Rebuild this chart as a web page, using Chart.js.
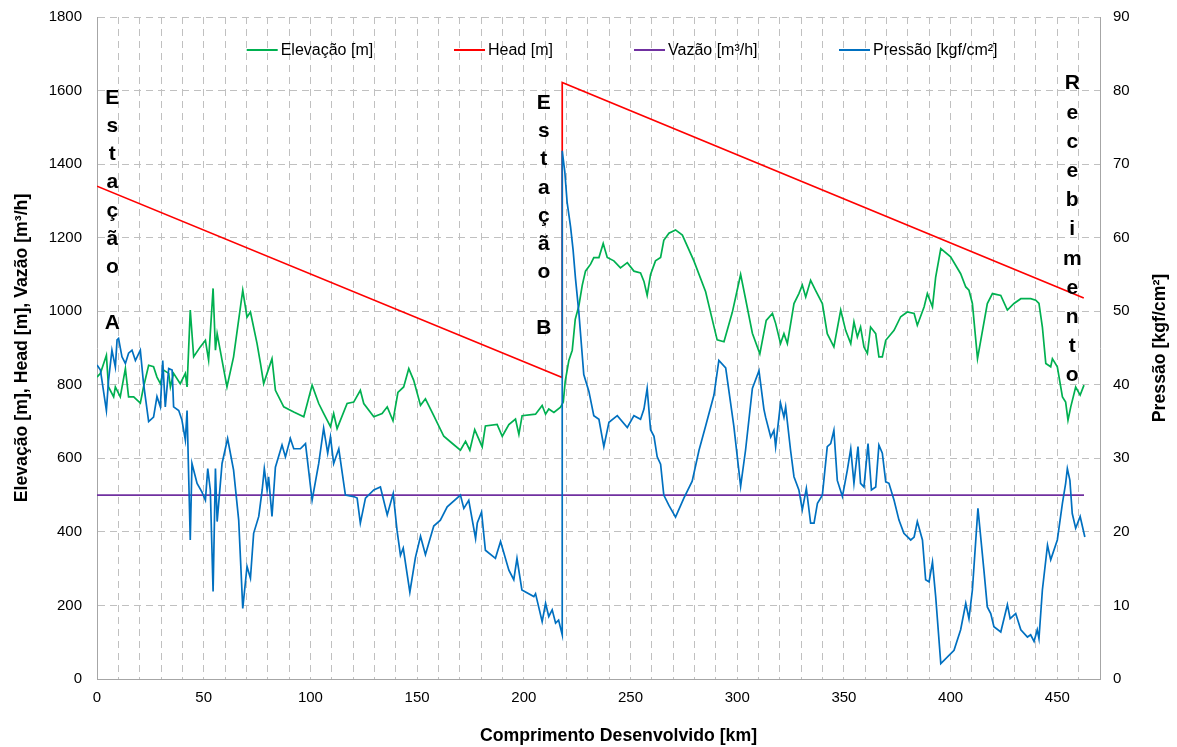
<!DOCTYPE html>
<html><head><meta charset="utf-8">
<script src="https://cdn.jsdelivr.net/npm/chart.js@4/dist/chart.umd.min.js"></script>
<style>html,body{margin:0;padding:0;background:#fff;}#wrap{width:1177px;height:747px;position:relative;}</style>
</head><body><div id="wrap"><canvas id="c"></canvas></div>
<script>
// ---------- DATA ----------
const elevKm = [0,1.6,4.4,5.4,7.8,8.6,10.9,13.3,14.8,17.2,20.3,21.8,24.2,26.5,28.1,29.7,31.2,33.6,34.4,35.9,39.0,41.4,42.2,43.7,45.3,48.4,50.8,52.3,54.4,55.5,56.3,60.9,64.0,68.3,70.3,71.9,75.0,76.6,78.1,79.7,82.0,83.6,87.5,90.6,92.2,96.9,100.8,103.9,106.2,109.4,110.9,112.5,117.2,120.3,123.4,125.0,129.7,133.6,136.0,138.7,141.0,143.7,146.1,148.4,151.6,153.9,157.8,162.5,166.4,170.3,172.7,174.7,177.0,180.5,182.0,187.5,189.9,193.0,196.1,197.7,199.2,205.5,208.6,210.2,211.7,214.1,217.2,218.5,219.4,221.1,222.7,224.1,225.8,227.4,228.9,231.3,232.8,235.2,237.2,239.1,242.2,245.3,248.5,251.6,254.7,256.3,257.8,259.4,261.7,264.1,265.6,268.0,271.1,274.3,279.7,285.2,287.5,290.6,293.8,297.7,301.6,303.9,307.1,310.6,313.6,316.5,318.0,320.3,321.9,323.5,326.6,328.9,330.5,332.1,334.4,336.7,339.9,342.2,345.3,348.5,350.8,353.2,354.7,356.3,357.8,359.4,361.0,362.5,364.9,366.4,368.0,369.6,373.5,376.6,379.7,382.9,384.4,387.6,389.1,391.5,393.0,395.4,400.0,404.7,407.1,408.6,410.2,412.6,417.2,419.6,423.5,426.6,429.7,432.9,437.5,439.9,441.4,443.0,444.6,446.9,447.7,450.0,452.4,453.9,455.0,456.3,458.6,460.7,462.5];
const elevM = [821,831,880,794,767,794,767,844,767,767,750,794,853,849,821,803,840,831,794,831,803,831,794,1003,876,903,921,867,1062,894,939,794,876,1057,984,998,912,858,803,831,871,785,740,731,726,713,799,749,722,686,722,681,749,753,785,749,713,722,740,702,779,794,844,812,744,762,716,660,641,622,646,622,678,631,688,692,660,692,707,665,716,720,744,720,734,725,739,753,809,866,894,978,1015,1071,1109,1128,1146,1146,1184,1146,1137,1118,1132,1109,1104,1081,1043,1100,1137,1146,1193,1212,1221,1207,1137,1053,997,922,917,997,1100,1034,940,884,975,994,967,912,939,912,1021,1048,1071,1039,1084,1057,1021,939,903,1003,948,912,971,930,957,903,885,957,939,876,876,921,948,985,998,994,962,1012,1048,1012,1093,1170,1148,1102,1066,1057,1021,871,1021,1048,1043,1003,1021,1034,1034,1030,1021,957,858,849,871,849,767,753,704,740,794,772,799];

const headKm = [0, 218, 218, 462.4];
const headM = [1340, 820, 1622, 1036];

const flowKm = [0, 462.5];
const flowM3h = [500, 500];

const pressKm = [0,1.6,4.4,5.4,7.0,8.6,9.4,10.1,11.7,13.3,14.8,16.4,18.0,20.3,21.8,24.2,26.5,28.1,29.7,30.8,32.0,33.6,35.2,35.9,38.3,39.8,41.4,42.2,43.7,44.5,46.9,49.2,50.8,51.9,53.1,54.4,55.5,56.3,58.6,61.2,64.0,66.4,68.3,70.3,71.9,73.4,75.8,77.4,78.4,79.7,80.4,82.0,83.6,86.7,88.3,90.6,92.2,95.3,97.7,100.8,103.9,106.2,108.1,109.4,110.9,113.3,116.4,120.3,121.9,123.4,125.8,129.7,132.8,136.0,138.8,140.6,142.2,143.5,146.6,149.2,151.6,153.9,157.8,160.9,164.1,170.3,171.9,174.2,177.4,178.2,180.2,182.0,186.7,189.1,193.0,195.3,196.8,199.1,204.7,205.5,208.6,210.2,211.7,213.3,214.9,216.3,218.0,218.0,219.2,220.3,221.9,223.1,224.2,225.8,228.1,230.5,232.8,235.2,237.5,239.9,243.8,248.5,251.6,254.7,256.3,257.8,259.4,261.0,262.5,264.1,265.6,268.0,271.1,275.0,278.9,282.1,285.2,289.1,291.4,294.6,298.4,301.6,303.9,307.1,310.2,312.5,313.3,315.7,317.2,318.0,320.3,321.9,322.7,325.0,326.6,328.9,330.5,332.4,334.4,336.0,337.6,339.9,342.2,343.8,345.3,346.9,349.3,351.6,353.2,354.7,356.6,357.8,359.4,361.3,362.9,364.9,366.4,368.0,369.6,371.1,373.5,375.8,378.1,381.3,382.9,384.4,386.8,388.3,389.9,391.5,393.0,395.4,401.6,404.7,407.1,408.6,410.2,412.8,415.6,417.2,418.8,420.3,423.5,426.6,427.9,430.5,432.9,436.0,437.5,439.1,440.6,441.4,443.0,445.4,446.9,450.0,452.4,453.9,454.7,455.9,457.0,458.6,460.7,462.9];
const pressKgf = [42.7,42.0,36.5,40.6,44.7,42.4,46.1,46.3,43.8,42.9,44.3,44.7,43.3,44.7,40.2,35.0,35.6,38.4,37.0,43.3,37.0,42.2,42.0,37.0,36.5,35.2,32.5,36.5,18.9,29.3,26.6,25.4,24.3,28.6,25.7,11.9,28.6,21.4,29.3,32.7,28.4,21.6,9.6,15.3,13.7,19.8,22.1,25.7,28.6,25.7,27.5,22.1,28.8,31.8,30.2,32.7,31.3,31.3,32.0,24.3,29.3,34.1,30.7,32.9,29.3,31.3,25.0,24.8,24.6,21.2,24.6,25.7,26.1,22.3,25.2,20.2,16.8,17.8,11.8,16.5,19.4,16.9,20.8,21.6,23.4,25.0,23.2,24.3,19.1,21.2,22.7,17.5,16.4,18.7,14.8,13.5,16.4,12.1,11.2,11.6,7.8,10.3,8.5,9.4,7.6,8.0,6.0,71.8,69.0,64.8,61.5,58.3,54.5,49.8,41.4,39.1,35.8,35.3,31.6,34.9,35.8,34.2,35.8,35.3,36.7,39.5,33.9,33.0,30.2,29.2,25.0,23.6,22.0,24.6,26.9,31.1,34.4,38.6,43.3,42.3,34.4,26.2,31.1,39.5,41.9,36.7,35.6,32.9,33.8,31.6,37.5,35.6,37.0,31.1,27.5,25.7,23.0,25.9,21.2,21.2,23.9,25.0,31.6,32.0,33.8,27.0,24.8,28.4,31.3,26.6,31.6,26.6,26.1,32.0,25.7,26.1,31.8,30.7,26.8,26.6,24.3,21.6,19.8,18.9,19.3,21.4,18.9,13.5,13.2,15.9,11.2,2.1,3.9,6.7,10.3,8.2,12.1,23.2,14.8,9.8,8.9,7.1,6.4,10.1,8.2,8.9,6.7,5.7,6.0,5.1,6.7,5.5,12.1,18.2,16.2,18.9,23.9,26.6,28.6,27.0,22.5,20.5,22.1,19.3];

const seriesNames = ['Elevação [m]', 'Head [m]', 'Vazão [m³/h]', 'Pressão [kgf/cm²]'];
const seriesColors = ['#00b050', '#ff0000', '#7030a0', '#0070c0'];
const xTitle = 'Comprimento Desenvolvido [km]';
const yTitle = 'Elevação [m], Head [m], Vazão [m³/h]';
const y2Title = 'Pressão [kgf/cm²]';
const stationLabels = ['Estação A', 'Estação B', 'Recebimento'];
const stationKm = [7.2, 209.4, 457];
const stationTop = [1580, 1565, 1619];

// ---------- LAYOUT / STYLE ----------
const FONT = "'Liberation Sans', Arial, Helvetica, sans-serif";
const GRID = '#c0c0c0';
const AXIS = '#a6a6a6';
const legendX = [246.7, 454, 634, 839];
const legendY = 50;
const stationLH = [28.2, 28.1, 29.2];

const toPts = (xs, ys) => xs.map((x, i) => ({x: x, y: ys[i]}));

const overlay = {
  id: 'overlay',
  afterDatasetsDraw(chart) {
    const ctx = chart.ctx;
    const xs = chart.scales.x, ys = chart.scales.y;
    const ca = chart.chartArea;
    ctx.save();
    ctx.fillStyle = '#000';
    ctx.font = 'bold 21px ' + FONT;
    ctx.textAlign = 'center';
    ctx.textBaseline = 'middle';
    stationLabels.forEach((lbl, k) => {
      const px = xs.getPixelForValue(stationKm[k]);
      const py = ys.getPixelForValue(stationTop[k]);
      Array.from(lbl).forEach((ch, i) => {
        if (ch !== ' ') ctx.fillText(ch, px, py + i * stationLH[k]);
      });
    });
    ctx.font = '16px ' + FONT;
    ctx.textAlign = 'left';
    seriesNames.forEach((name, i) => {
      const lx = legendX[i];
      ctx.strokeStyle = seriesColors[i];
      ctx.lineWidth = 2;
      ctx.beginPath();
      ctx.moveTo(lx, legendY);
      ctx.lineTo(lx + 31, legendY);
      ctx.stroke();
      ctx.fillStyle = '#000';
      ctx.fillText(name, lx + 34, legendY + 1);
    });
    ctx.font = 'bold 17.7px ' + FONT;
    ctx.textAlign = 'center';
    ctx.textBaseline = 'middle';
    ctx.save();
    ctx.translate(ca.right + 60, (ca.top + ca.bottom) / 2);
    ctx.rotate(-Math.PI / 2);
    ctx.fillText(y2Title, 0, 0);
    ctx.restore();
    ctx.fillText(xTitle, (ca.left + ca.right) / 2 + 20, ca.bottom + 57);
    ctx.restore();
  }
};

const tickFont = {family: FONT, size: 15};
const plain = v => String(v);
const fitY = w => s => { s.width = w; s.paddingTop = 0; s.paddingBottom = 0; };

new Chart(document.getElementById('c'), {
  type: 'line',
  data: {
    datasets: [
      {label: seriesNames[0], data: toPts(elevKm, elevM), borderColor: seriesColors[0], yAxisID: 'y', order: 4},
      {label: seriesNames[1], data: toPts(headKm, headM), borderColor: seriesColors[1], yAxisID: 'y', order: 3},
      {label: seriesNames[2], data: toPts(flowKm, flowM3h), borderColor: seriesColors[2], yAxisID: 'y', order: 2},
      {label: seriesNames[3], data: toPts(pressKm, pressKgf), borderColor: seriesColors[3], yAxisID: 'y2', order: 1}
    ]
  },
  options: {
    responsive: true,
    maintainAspectRatio: false,
    animation: false,
    elements: {point: {radius: 0}, line: {borderWidth: 1.7, tension: 0, fill: false}},
    layout: {padding: {top: 17, left: 0, right: 0, bottom: 0}},
    plugins: {legend: {display: false}, tooltip: {enabled: false}},
    scales: {
      x: {
        type: 'linear', position: 'bottom', min: 0, max: 470,
        ticks: {stepSize: 10, autoSkip: false, maxRotation: 0, padding: 10, font: tickFont, color: '#000',
          callback: v => (v % 50 === 0 ? String(v) : '')},
        grid: {color: GRID, lineWidth: 1, drawTicks: false},
        border: {color: AXIS, width: 1, dash: [7, 5]},
        afterFit: s => { s.height = 68; s.paddingLeft = 0; s.paddingRight = 0; }
      },
      y: {
        type: 'linear', position: 'left', min: 0, max: 1800,
        ticks: {stepSize: 200, padding: 15, font: tickFont, color: '#000', callback: plain},
        grid: {color: GRID, lineWidth: 1, drawTicks: false},
        border: {color: AXIS, width: 1, dash: [7, 5]},
        title: {display: true, text: yTitle, color: '#000', font: {family: FONT, size: 17.7, weight: 'bold'}, padding: {top: 11, bottom: 0}},
        afterFit: fitY(97)
      },
      y2: {
        type: 'linear', position: 'right', min: 0, max: 90,
        ticks: {stepSize: 10, padding: 13, font: tickFont, color: '#000', callback: plain},
        grid: {drawOnChartArea: false, drawTicks: false},
        border: {color: AXIS, width: 1},
        afterFit: fitY(77)
      }
    }
  },
  plugins: [overlay]
});
</script></body></html>
